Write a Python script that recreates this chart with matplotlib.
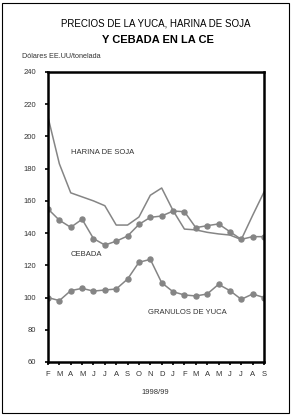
import numpy as np
import matplotlib
matplotlib.use("Agg")
import matplotlib.pyplot as plt
from matplotlib.patches import Rectangle

plt.rcParams['font.family'] = ['Liberation Sans', 'DejaVu Sans']

months = ['F', 'M', 'A', 'M', 'J', 'J', 'A', 'S', 'O', 'N', 'D',
          'J', 'F', 'M', 'A', 'M', 'J', 'J', 'A', 'S']
harina = [212, 183, 165, 162.5, 160, 157, 145, 145, 150, 163.5, 168,
          154, 142.5, 142, 140.5, 139.5, 138.8, 136, 151, 165.5]
cebada = [155, 148, 143.6, 148.6, 136.6, 132.6, 135, 138.2, 145.4, 149.8, 150.6,
          153.7, 153.3, 143.4, 144.6, 145.7, 140.9, 136.1, 137.8, 137.8]
yuca = [100, 98.1, 104.3, 105.7, 104, 104.7, 105.3, 111.5, 121.9, 123.7, 109.2,
        103.6, 101.6, 101, 102.2, 108.2, 104.3, 98.9, 102.2, 100]

x = np.arange(len(months))
gray = '#858585'
txt = '#333333'

fig = plt.figure(figsize=(2.93, 4.16), dpi=100)
ax = fig.add_axes([48/293, 54/416, 216/293, 290/416])

ax.plot(x, harina, color=gray, lw=1.1)
ax.plot(x, cebada, color=gray, lw=1.1, marker='o', ms=3.6)
ax.plot(x, yuca, color=gray, lw=1.1, marker='o', ms=3.6)

ax.set_xlim(0, len(months) - 1)
ax.set_ylim(60, 240)
ax.set_yticks(np.arange(60, 241, 20))
ax.set_xticks(x)
ax.set_xticklabels(months)
for s in ax.spines.values():
    s.set_linewidth(1.8)
ax.tick_params(axis='both', length=2.5, width=1.2, labelsize=5.5, labelcolor=txt)
ax.tick_params(axis='y', pad=6)
ax.tick_params(axis='x', pad=4)

ax.text(2, 190, 'HARINA DE SOJA', fontsize=5.5, color=txt, va='center')
ax.text(2, 127, 'CEBADA', fontsize=5.5, color=txt, va='center')
ax.text(8.8, 91, 'GRANULOS DE YUCA', fontsize=5.5, color=txt, va='center')

fig.text(0.53, 392/416, 'PRECIOS DE LA YUCA, HARINA DE SOJA', ha='center', va='center',
         fontsize=7, color='black')
fig.text(0.54, 376/416, 'Y CEBADA EN LA CE', ha='center', va='center',
         fontsize=8, fontweight='bold', color='black')
fig.text(22/293, 359/416, 'Dólares EE.UU/tonelada', ha='left', va='center',
         fontsize=5.2, color=txt)
fig.text(155/293, 24/416, '1998/99', ha='center', va='center', fontsize=5.5, color=txt)

fig.patches.append(Rectangle((2/293, 3/416), 287/293, 410/416, transform=fig.transFigure,
                             fill=False, edgecolor='black', lw=0.8))

fig.savefig('out.png', dpi=100)
